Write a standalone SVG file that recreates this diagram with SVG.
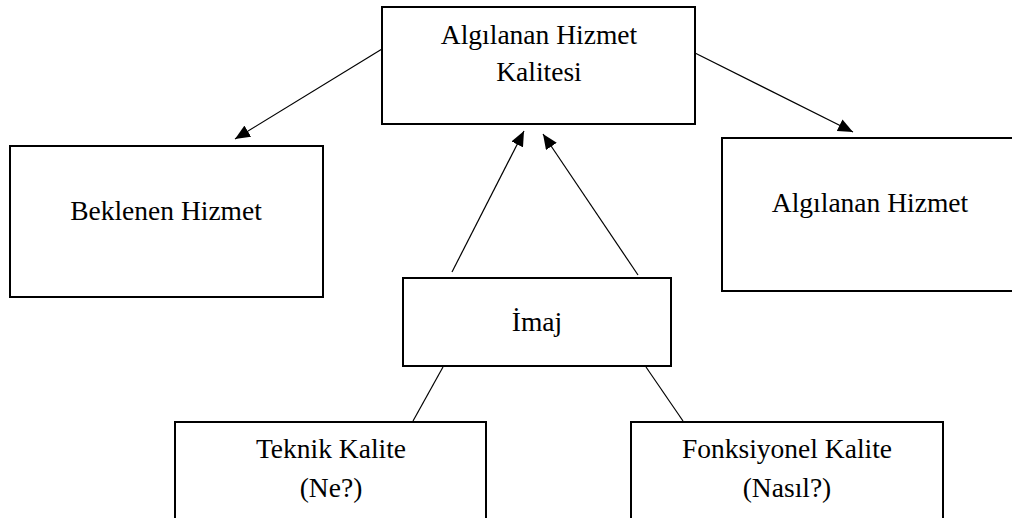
<svg xmlns="http://www.w3.org/2000/svg" width="1012" height="518" viewBox="0 0 1012 518">
  <style>
    .box { fill: #ffffff; stroke: #000000; stroke-width: 2; }
    .lbl { font-family: "Liberation Serif", "Times New Roman", serif; font-size: 27.5px; fill: #000000; text-anchor: middle; }
    .edge { stroke: #000000; stroke-width: 1.2; fill: none; }
  </style>
  <defs>
    <marker id="arrow" markerUnits="userSpaceOnUse" markerWidth="16" markerHeight="13" refX="15" refY="6.5" orient="auto">
      <path d="M0,0 L15,6.5 L0,13 z" fill="#000000"/>
    </marker>
  </defs>
  <rect width="1012" height="518" fill="#ffffff"/>

  <g id="connectors">
    <line class="edge" x1="382" y1="49" x2="235" y2="139" marker-end="url(#arrow)"/>
    <line class="edge" x1="695" y1="53" x2="853" y2="132" marker-end="url(#arrow)"/>
    <line class="edge" x1="452" y1="272" x2="524" y2="131" marker-end="url(#arrow)"/>
    <line class="edge" x1="638" y1="275" x2="543" y2="134" marker-end="url(#arrow)"/>
    <line class="edge" x1="443" y1="367" x2="413" y2="421"/>
    <line class="edge" x1="646" y1="367" x2="683" y2="421"/>
  </g>

  <g id="algilanan-hizmet-kalitesi">
    <rect class="box" x="382" y="7" width="313" height="117"/>
    <text class="lbl" x="539" y="44">Algılanan Hizmet</text>
    <text class="lbl" x="539" y="81">Kalitesi</text>
  </g>

  <g id="beklenen-hizmet">
    <rect class="box" x="10" y="146" width="313" height="151"/>
    <text class="lbl" x="166" y="220">Beklenen Hizmet</text>
  </g>

  <g id="algilanan-hizmet">
    <rect class="box" x="722" y="138" width="300" height="153"/>
    <text class="lbl" x="870" y="212">Algılanan Hizmet</text>
  </g>

  <g id="imaj">
    <rect class="box" x="403" y="278" width="268" height="88"/>
    <text class="lbl" x="537" y="331">İmaj</text>
  </g>

  <g id="teknik-kalite">
    <rect class="box" x="175" y="422" width="311" height="110"/>
    <text class="lbl" x="331" y="458">Teknik Kalite</text>
    <text class="lbl" x="331" y="497">(Ne?)</text>
  </g>

  <g id="fonksiyonel-kalite">
    <rect class="box" x="631" y="422" width="312" height="110"/>
    <text class="lbl" x="787" y="458">Fonksiyonel Kalite</text>
    <text class="lbl" x="787" y="497">(Nasıl?)</text>
  </g>
</svg>
